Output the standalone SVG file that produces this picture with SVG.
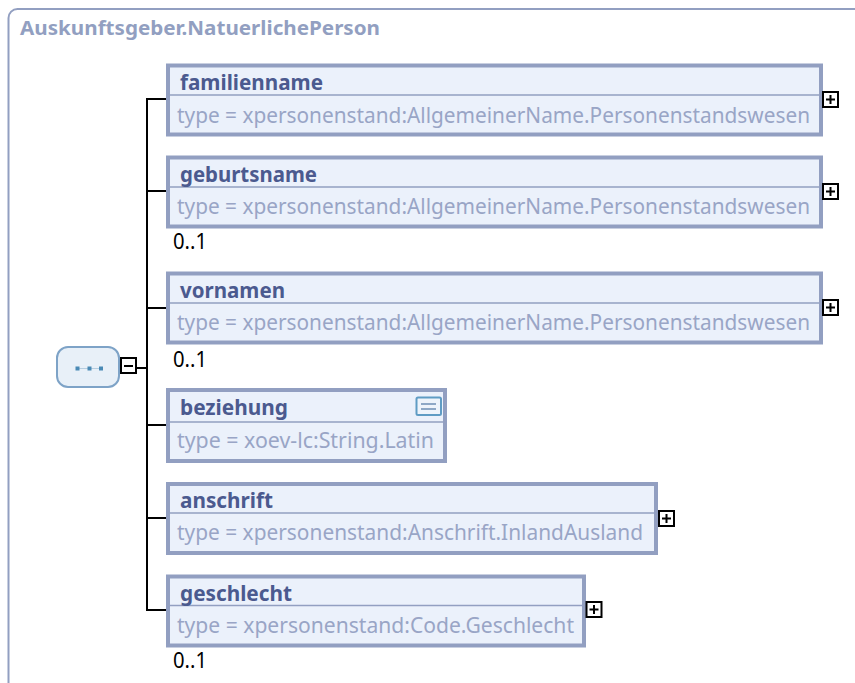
<svg xmlns="http://www.w3.org/2000/svg" width="855" height="683" viewBox="0 0 855 683">
<style>
text{font-family:"Noto Sans","DejaVu Sans",sans-serif}
.box{fill:#ebf1fb;stroke:#929fc1;stroke-width:4}
.div{stroke:#929fc1;stroke-width:1.500;fill:none}
.name{font-size:21px;font-weight:700;fill:#4b5a8f}
.type{font-size:21.500px;fill:#99a5c6}
.occ{font-size:21px;fill:#000}
.tog{fill:#fff;stroke:#000;stroke-width:2}
.sign{stroke:#000;stroke-width:2;fill:none}
.wire{stroke:#000;stroke-width:2;fill:none}
</style>
<path d="M8.500 683V18a9 9 0 0 1 9-9H855" fill="none" stroke="#929fc1" stroke-width="2"/>
<text x="20" y="35" font-size="19.500" font-weight="700" fill="#929fc1" textLength="360" lengthAdjust="spacingAndGlyphs">Auskunftsgeber.NatuerlichePerson</text>
<g id="connectors">
<path class="wire" d="M147 99H167M147 191H167M147 308H167M147 425H167M147 518H167M147 610H167M147 98V611M136 368H147"/>
</g>
<g id="sequence">
<rect x="57" y="347" width="62" height="40" rx="11" fill="#e8f0f8" stroke="#7ea3c7" stroke-width="2"/>
<path d="M78 368.500H102" stroke="#b5cde0" stroke-width="1"/>
<rect x="75.500" y="366.500" width="4" height="4" fill="#4a8ab5"/><rect x="87.500" y="366.500" width="4" height="4" fill="#4a8ab5"/><rect x="99" y="366.500" width="4" height="4" fill="#4a8ab5"/>
<rect class="tog" x="121" y="358" width="15" height="15"/><path class="sign" d="M124 366H133"/>
</g>
<g id="familienname">
<rect class="box" x="168" y="65.500" width="653" height="69"/><path class="div" d="M170 95H819"/>
<text class="name" x="180" y="90" textLength="143" lengthAdjust="spacingAndGlyphs">familienname</text>
<text class="type" x="177" y="123" textLength="633" lengthAdjust="spacingAndGlyphs">type = xpersonenstand:AllgemeinerName.Personenstandswesen</text>
<rect class="tog" x="823" y="92" width="15" height="15"/><path class="sign" d="M826 99.500H835M830.500 95V104"/>
</g>
<g id="geburtsname">
<rect class="box" x="168" y="157.500" width="653" height="69"/><path class="div" d="M170 187H819"/>
<text class="name" x="180" y="182" textLength="137" lengthAdjust="spacingAndGlyphs">geburtsname</text>
<text class="type" x="177" y="214" textLength="633" lengthAdjust="spacingAndGlyphs">type = xpersonenstand:AllgemeinerName.Personenstandswesen</text>
<rect class="tog" x="823" y="184" width="15" height="15"/><path class="sign" d="M826 191.500H835M830.500 187V196"/>
<text class="occ" x="173" y="249" textLength="34" lengthAdjust="spacingAndGlyphs">0..1</text>
</g>
<g id="vornamen">
<rect class="box" x="168" y="273.500" width="653" height="69"/><path class="div" d="M170 303H819"/>
<text class="name" x="180" y="298" textLength="105" lengthAdjust="spacingAndGlyphs">vornamen</text>
<text class="type" x="177" y="330" textLength="633" lengthAdjust="spacingAndGlyphs">type = xpersonenstand:AllgemeinerName.Personenstandswesen</text>
<rect class="tog" x="823" y="300" width="15" height="15"/><path class="sign" d="M826 307.500H835M830.500 303V312"/>
<text class="occ" x="173" y="367" textLength="34" lengthAdjust="spacingAndGlyphs">0..1</text>
</g>
<g id="beziehung">
<rect class="box" x="168" y="390" width="277" height="71"/><path class="div" d="M170 422H443"/>
<text class="name" x="180" y="415" textLength="108" lengthAdjust="spacingAndGlyphs">beziehung</text>
<text class="type" x="177" y="448" textLength="257" lengthAdjust="spacingAndGlyphs">type = xoev-lc:String.Latin</text>
<rect x="416.500" y="397.500" width="24.500" height="17.500" rx="1.500" fill="#eef4fb" stroke="#5f9cc4" stroke-width="2"/>
<path d="M421 404H436M421 409H436" stroke="#6f8fb5" stroke-width="1.500"/>
</g>
<g id="anschrift">
<rect class="box" x="168" y="484" width="488" height="69"/><path class="div" d="M170 513H654"/>
<text class="name" x="180" y="508" textLength="93" lengthAdjust="spacingAndGlyphs">anschrift</text>
<text class="type" x="177" y="540" textLength="466" lengthAdjust="spacingAndGlyphs">type = xpersonenstand:Anschrift.InlandAusland</text>
<rect class="tog" x="659" y="511" width="15" height="15"/><path class="sign" d="M662 518.500H671M666.500 514V523"/>
</g>
<g id="geschlecht">
<rect class="box" x="168" y="576.500" width="416" height="69"/><path class="div" d="M170 605.500H582"/>
<text class="name" x="180" y="601" textLength="112" lengthAdjust="spacingAndGlyphs">geschlecht</text>
<text class="type" x="177" y="633" textLength="397" lengthAdjust="spacingAndGlyphs">type = xpersonenstand:Code.Geschlecht</text>
<rect class="tog" x="586.500" y="602" width="15" height="15"/><path class="sign" d="M589.500 609.500H598.500M594 605V614"/>
<text class="occ" x="173" y="668" textLength="34" lengthAdjust="spacingAndGlyphs">0..1</text>
</g>
</svg>
